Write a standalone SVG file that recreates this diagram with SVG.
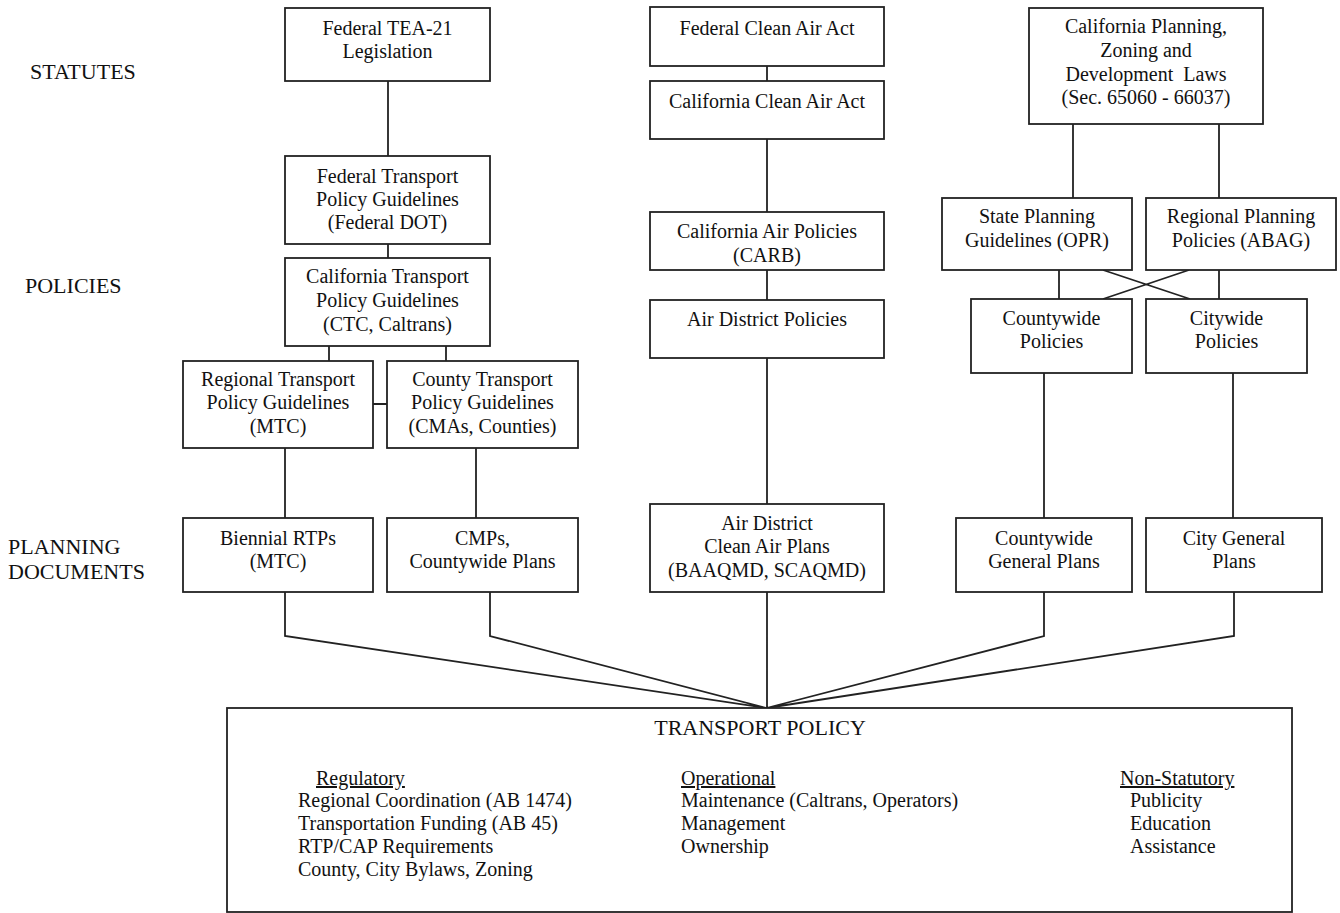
<svg xmlns="http://www.w3.org/2000/svg" width="1340" height="913" viewBox="0 0 1340 913">
<style>
.b{fill:#fff;stroke:#222;stroke-width:1.8}
.t{font-family:"Liberation Serif","Times New Roman",serif;font-size:20px;fill:#111;text-anchor:middle}
.l{font-family:"Liberation Serif","Times New Roman",serif;font-size:22px;fill:#111}
.s{font-family:"Liberation Serif","Times New Roman",serif;font-size:20px;fill:#111}
.u{text-decoration:underline}
.c{fill:none;stroke:#222;stroke-width:1.8}
</style>
<rect width="1340" height="913" fill="#fff"/>
<g id="labels">
<text class="l" x="30" y="79">STATUTES</text>
<text class="l" x="25" y="293">POLICIES</text>
<text class="l" x="8" y="554">PLANNING</text>
<text class="l" x="8" y="579">DOCUMENTS</text>
</g>
<g id="connectors">
<path class="c" d="M388 81V156M388 244V258M329 346V361M446 346V361M373 404H387M285 448V518M476 446V518"/>
<path class="c" d="M767 66V81M767 139V212M767 270V300M767 358V504"/>
<path class="c" d="M1073 124V198M1219 124V198M1059 270V299M1219 270V299M1103 270L1190 299M1189 270L1103 299M1044 373V518M1233 373V518"/>
<path class="c" d="M285 592V636L766.5 708M490 592V636L766.5 708M767 592V708M1044 592V636L766.5 708M1234 592V636L766.5 708"/>
</g>
<g id="n_tea21"><rect class="b" x="285" y="8" width="205" height="73"/>
<text class="t" x="387.5" y="35">Federal TEA-21</text><text class="t" x="387.5" y="58">Legislation</text></g>
<g id="n_fedtp"><rect class="b" x="285" y="156" width="205" height="88"/>
<text class="t" x="387.5" y="183">Federal Transport</text><text class="t" x="387.5" y="206">Policy Guidelines</text><text class="t" x="387.5" y="229">(Federal DOT)</text></g>
<g id="n_catp"><rect class="b" x="285" y="258" width="205" height="88"/>
<text class="t" x="387.5" y="283">California Transport</text><text class="t" x="387.5" y="307">Policy Guidelines</text><text class="t" x="387.5" y="331">(CTC, Caltrans)</text></g>
<g id="n_regtp"><rect class="b" x="183" y="361" width="190" height="87"/>
<text class="t" x="278" y="386">Regional Transport</text><text class="t" x="278" y="409">Policy Guidelines</text><text class="t" x="278" y="433">(MTC)</text></g>
<g id="n_ctytp"><rect class="b" x="387" y="361" width="191" height="87"/>
<text class="t" x="482.5" y="386">County Transport</text><text class="t" x="482.5" y="409">Policy Guidelines</text><text class="t" x="482.5" y="433">(CMAs, Counties)</text></g>
<g id="n_biennial"><rect class="b" x="183" y="518" width="190" height="74"/>
<text class="t" x="278" y="545">Biennial RTPs</text><text class="t" x="278" y="568">(MTC)</text></g>
<g id="n_cmps"><rect class="b" x="387" y="518" width="191" height="74"/>
<text class="t" x="482.5" y="545">CMPs,</text><text class="t" x="482.5" y="568">Countywide Plans</text></g>
<g id="n_fcaa"><rect class="b" x="650" y="7" width="234" height="59"/>
<text class="t" x="767" y="35">Federal Clean Air Act</text></g>
<g id="n_ccaa"><rect class="b" x="650" y="81" width="234" height="58"/>
<text class="t" x="767" y="108">California Clean Air Act</text></g>
<g id="n_cap"><rect class="b" x="650" y="212" width="234" height="58"/>
<text class="t" x="767" y="238">California Air Policies</text><text class="t" x="767" y="262">(CARB)</text></g>
<g id="n_adp"><rect class="b" x="650" y="300" width="234" height="58"/>
<text class="t" x="767" y="326">Air District Policies</text></g>
<g id="n_adcap"><rect class="b" x="650" y="504" width="234" height="88"/>
<text class="t" x="767" y="530">Air District</text><text class="t" x="767" y="553">Clean Air Plans</text><text class="t" x="767" y="577">(BAAQMD, SCAQMD)</text></g>
<g id="n_cpz"><rect class="b" x="1029" y="8" width="234" height="116"/>
<text class="t" x="1146" y="33">California Planning,</text><text class="t" x="1146" y="57">Zoning and</text><text class="t" x="1146" y="81" xml:space="preserve">Development  Laws</text><text class="t" x="1146" y="104">(Sec. 65060 - 66037)</text></g>
<g id="n_spg"><rect class="b" x="942" y="198" width="190" height="72"/>
<text class="t" x="1037" y="223">State Planning</text><text class="t" x="1037" y="247">Guidelines (OPR)</text></g>
<g id="n_rpp"><rect class="b" x="1146" y="198" width="190" height="72"/>
<text class="t" x="1241" y="223">Regional Planning</text><text class="t" x="1241" y="247">Policies (ABAG)</text></g>
<g id="n_cwp"><rect class="b" x="971" y="299" width="161" height="74"/>
<text class="t" x="1051.5" y="325">Countywide</text><text class="t" x="1051.5" y="348">Policies</text></g>
<g id="n_cip"><rect class="b" x="1146" y="299" width="161" height="74"/>
<text class="t" x="1226.5" y="325">Citywide</text><text class="t" x="1226.5" y="348">Policies</text></g>
<g id="n_cwgp"><rect class="b" x="956" y="518" width="176" height="74"/>
<text class="t" x="1044" y="545">Countywide</text><text class="t" x="1044" y="568">General Plans</text></g>
<g id="n_cgp"><rect class="b" x="1146" y="518" width="176" height="74"/>
<text class="t" x="1234" y="545">City General</text><text class="t" x="1234" y="568">Plans</text></g>
<g id="n_tp"><rect class="b" x="227" y="708" width="1065" height="204"/>
<text class="l" x="760" y="735" text-anchor="middle">TRANSPORT POLICY</text>
<text class="s u" x="316" y="785">Regulatory</text>
<text class="s" x="298" y="807">Regional Coordination (AB 1474)</text>
<text class="s" x="298" y="830">Transportation Funding (AB 45)</text>
<text class="s" x="298" y="853">RTP/CAP Requirements</text>
<text class="s" x="298" y="876">County, City Bylaws, Zoning</text>
<text class="s u" x="681" y="785">Operational</text>
<text class="s" x="681" y="807">Maintenance (Caltrans, Operators)</text>
<text class="s" x="681" y="830">Management</text>
<text class="s" x="681" y="853">Ownership</text>
<text class="s u" x="1120" y="785">Non-Statutory</text>
<text class="s" x="1130" y="807">Publicity</text>
<text class="s" x="1130" y="830">Education</text>
<text class="s" x="1130" y="853">Assistance</text>
</g>
</svg>
